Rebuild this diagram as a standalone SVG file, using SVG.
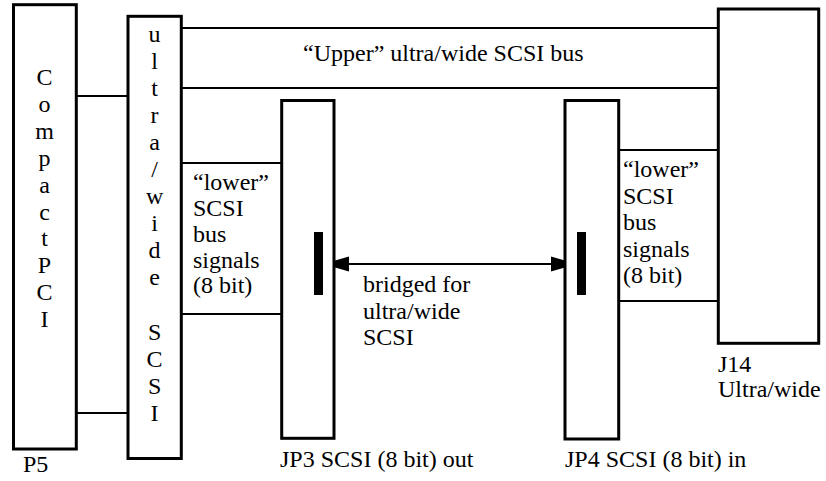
<svg xmlns="http://www.w3.org/2000/svg" width="826" height="481" viewBox="0 0 826 481">
<style>
.box{fill:#fff;stroke:#000;stroke-width:3}
.ln{stroke:#000;stroke-width:2.2;fill:none}
.bar{fill:#000}
.t{font-family:'Liberation Serif','Times New Roman',serif;font-size:24px;fill:#000}
.v{text-anchor:middle}
</style>
<defs>
<marker id="ah" markerWidth="27" markerHeight="16" refX="26" refY="8" orient="auto-start-reverse" markerUnits="userSpaceOnUse" viewBox="0 0 27 16" overflow="visible">
<path d="M0,0.5 L26,8 L0,15.5 Z" fill="#000"/>
</marker>
</defs>
<g id="connectors">
<line class="ln" x1="76" y1="96" x2="128" y2="96"/>
<line class="ln" x1="76" y1="413" x2="128" y2="413"/>
<line class="ln" x1="181" y1="28" x2="718" y2="28"/>
<line class="ln" x1="181" y1="88" x2="718" y2="88"/>
<line class="ln" x1="181" y1="163" x2="282" y2="163"/>
<line class="ln" x1="181" y1="314" x2="282" y2="314"/>
<line class="ln" x1="618" y1="150" x2="718" y2="150"/>
<line class="ln" x1="618" y1="301" x2="718" y2="301"/>
<line class="ln" x1="323" y1="264" x2="577" y2="264" marker-start="url(#ah)" marker-end="url(#ah)"/>
</g>
<g id="P5">
<rect class="box" x="13.5" y="4.7" width="62.8" height="444.3"/>
<text class="t v"><tspan x="44.5" y="85">C</tspan><tspan x="44.5" y="112">o</tspan><tspan x="44.5" y="139">m</tspan><tspan x="44.5" y="166">p</tspan><tspan x="44.5" y="193">a</tspan><tspan x="44.5" y="219.5">c</tspan><tspan x="44.5" y="246">t</tspan><tspan x="44.5" y="273">P</tspan><tspan x="44.5" y="300">C</tspan><tspan x="44.5" y="327">I</tspan></text>
<text class="t" x="23" y="472">P5</text>
</g>
<g id="ultrawide">
<rect class="box" x="128" y="16.3" width="53.3" height="442.2"/>
<text class="t v"><tspan x="154.6" y="42">u</tspan><tspan x="154.6" y="69">l</tspan><tspan x="154.6" y="96">t</tspan><tspan x="154.6" y="123">r</tspan><tspan x="154.6" y="150">a</tspan><tspan x="154.6" y="177">/</tspan><tspan x="154.6" y="204">w</tspan><tspan x="154.6" y="231">i</tspan><tspan x="154.6" y="258">d</tspan><tspan x="154.6" y="285">e</tspan><tspan x="154.6" y="340">S</tspan><tspan x="154.6" y="367">C</tspan><tspan x="154.6" y="394">S</tspan><tspan x="154.6" y="421">I</tspan></text>
</g>
<g id="JP3">
<rect class="box" x="281.7" y="100.5" width="52.3" height="337.8"/>
<rect class="bar" x="314" y="232" width="9" height="63"/>
<text class="t" x="280" y="467">JP3 SCSI (8 bit) out</text>
</g>
<g id="JP4">
<rect class="box" x="565" y="100.5" width="53.7" height="338.5"/>
<rect class="bar" x="577" y="232" width="9" height="63"/>
<text class="t" x="565" y="467">JP4 SCSI (8 bit) in</text>
</g>
<g id="J14">
<rect class="box" x="718.3" y="9" width="100.4" height="334.3"/>
<text class="t" x="718" y="372">J14</text>
<text class="t" x="718" y="397">Ultra/wide</text>
</g>
<g id="labels">
<text class="t" x="303" y="61">“Upper” ultra/wide SCSI bus</text>
<text class="t"><tspan x="193" y="190">“lower”</tspan><tspan x="193" y="216">SCSI</tspan><tspan x="193" y="242">bus</tspan><tspan x="193" y="268">signals</tspan><tspan x="193" y="293">(8 bit)</tspan></text>
<text class="t"><tspan x="623" y="177">“lower”</tspan><tspan x="623" y="203.5">SCSI</tspan><tspan x="623" y="230">bus</tspan><tspan x="623" y="256.5">signals</tspan><tspan x="623" y="283">(8 bit)</tspan></text>
<text class="t"><tspan x="363" y="292">bridged for</tspan><tspan x="363" y="318.5">ultra/wide</tspan><tspan x="363" y="345">SCSI</tspan></text>
</g>
</svg>
